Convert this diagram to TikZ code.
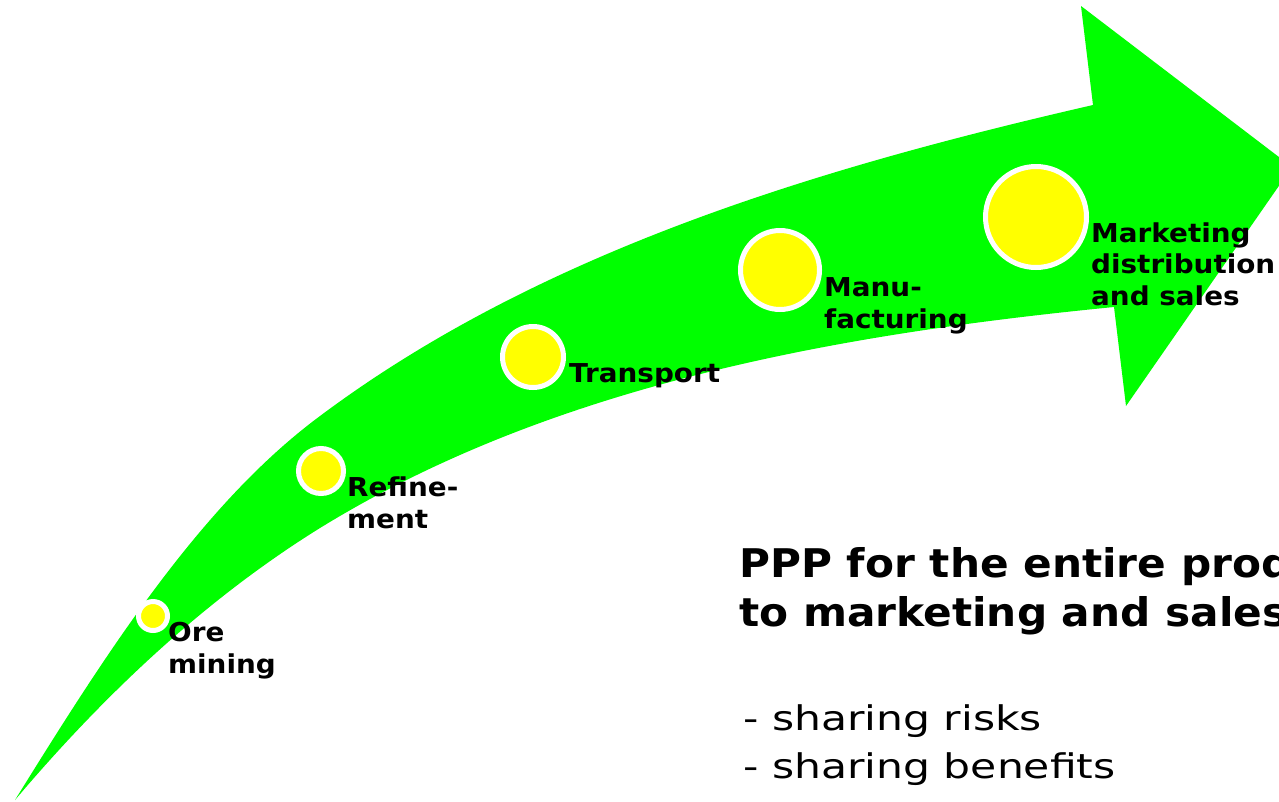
\documentclass[tikz,border=0pt]{standalone}
\usepackage{fontspec}
\setmainfont{DejaVu Sans}
\newfontfamily\labelfont[FakeStretch=1.07]{DejaVu Sans}
\newfontfamily\bulletfont[FakeStretch=1.25]{DejaVu Sans}
\definecolor{arrowgreen}{RGB}{0,255,0}
\definecolor{dotyellow}{RGB}{255,255,0}
\begin{document}
\begin{tikzpicture}[x=1pt,y=-1pt,
  dot/.style={circle, draw=white, line width=5pt, fill=dotyellow, inner sep=0pt},
  lbl/.style={anchor=base west, align=left, inner sep=0pt, font=\labelfont\bfseries\fontsize{26}{31.5}\selectfont},
  headtext/.style={anchor=base west, align=left, inner sep=0pt, font=\labelfont\bfseries\fontsize{39.5}{49}\selectfont},
  bullettext/.style={anchor=base west, align=left, inner sep=0pt, font=\bulletfont\fontsize{34}{48}\selectfont}]
\useasboundingbox (0,0) rectangle (1279,801);
% curved arrow
\fill[arrowgreen] (15,800) .. controls (105,655) and (200,505) .. (320,416)
  .. controls (542,250) and (823,167) .. (1093,105)
  -- (1081,6) -- (1292,167) -- (1126,406) -- (1114,307)
  .. controls (840,334) and (554,384) .. (320,528)
  .. controls (204,600) and (103,696) .. (15,800) -- cycle;
% stages
\node[dot, minimum size=29pt] (ore) at (153,616) {};
\node[dot, minimum size=45pt] (refine) at (321,471) {};
\node[dot, minimum size=61pt] (transport) at (533,357) {};
\node[dot, minimum size=79pt] (manu) at (780,270) {};
\node[dot, minimum size=101pt] (market) at (1036,217) {};
\node[lbl] (oreL) at (168,673) {Ore\\mining};
\node[lbl] (refineL) at (347,528) {Refine-\\ment};
\node[lbl] (transportL) at (569,382) {Transport};
\node[lbl] (manuL) at (824,328) {Manu-\\facturing};
\node[lbl] (marketL) at (1091,305) {Marketing\\distribution\\and sales};
% text
\node[headtext] (ppp) at (739,626) {PPP for the entire production\\to marketing and sales};
\node[bullettext] (share) at (743,778) {- sharing risks\\- sharing benefits};
\end{tikzpicture}
\end{document}
